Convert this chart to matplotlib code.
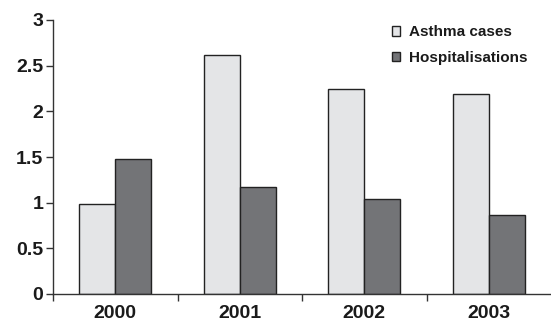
import numpy as np
import matplotlib.pyplot as plt

years = ["2000", "2001", "2002", "2003"]
asthma = [0.99, 2.62, 2.24, 2.19]
hospital = [1.48, 1.17, 1.04, 0.86]

plt.rcParams['font.family'] = ['Liberation Sans', 'DejaVu Sans']
plt.rcParams['font.weight'] = 'bold'

fig = plt.figure(figsize=(5.51, 3.25), dpi=100)
ax = fig.add_axes([53/551, 31/325, 498/551, 274/325])

x = np.arange(len(years))
w = 0.29
ax.bar(x - w/2, asthma, w, color='#e4e5e7', edgecolor='#222222', linewidth=1.0, label='Asthma cases')
ax.bar(x + w/2, hospital, w, color='#737477', edgecolor='#222222', linewidth=1.0, label='Hospitalisations')

ax.set_xlim(-0.5, 3.5)
ax.set_ylim(0, 3)
ax.set_yticks([0, 0.5, 1, 1.5, 2, 2.5, 3])
ax.set_yticklabels(['0', '0.5', '1', '1.5', '2', '2.5', '3'], fontsize=14, fontweight='bold', color='#1a1a1a')
ax.set_xticks(x)
ax.set_xticklabels(years, fontsize=14, fontweight='bold', color='#1a1a1a')
ax.tick_params(axis='x', which='major', length=0, pad=8)
ax.set_xticks([-0.5, 0.5, 1.5, 2.5], minor=True)
ax.tick_params(axis='x', which='minor', length=5, width=1, color='#333333')
ax.tick_params(axis='y', length=5, width=1, color='#333333', pad=2)

for s in ['top', 'right']:
    ax.spines[s].set_visible(False)
for s in ['left', 'bottom']:
    ax.spines[s].set_color('#333333')
    ax.spines[s].set_linewidth(1)

leg = ax.legend(loc='upper left', bbox_to_anchor=(0.68, 0.98), frameon=False,
                prop={'size': 11, 'weight': 'bold'}, handlelength=0.55, handleheight=0.55,
                handletextpad=0.6, labelspacing=0.75, borderpad=0, borderaxespad=0)
for t in leg.get_texts():
    t.set_color('#1a1a1a')

fig.savefig('out.png', dpi=100)
